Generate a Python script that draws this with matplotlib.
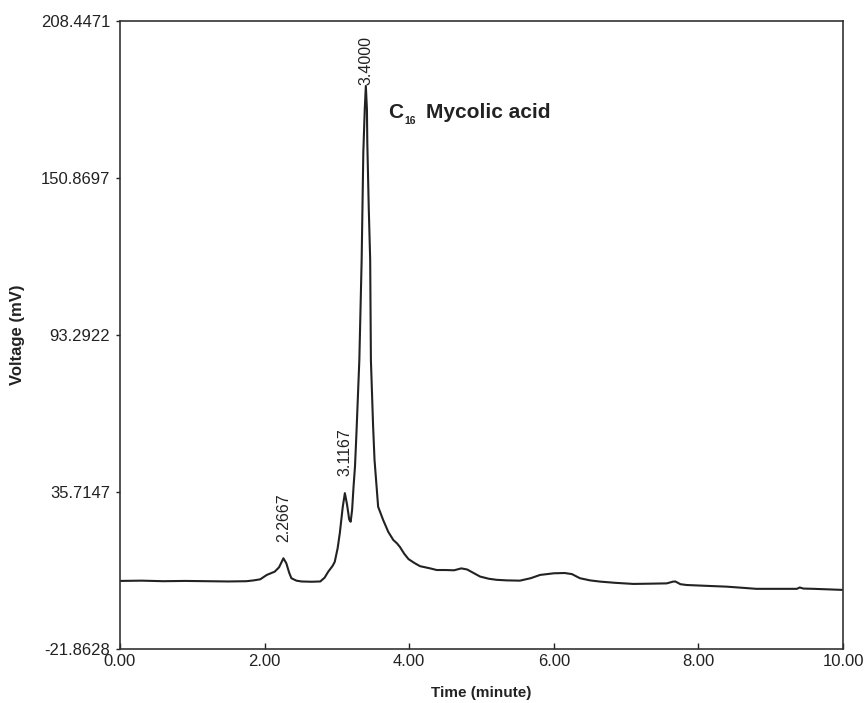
import matplotlib
matplotlib.use("Agg")
import matplotlib.pyplot as plt

plt.rcParams['font.family'] = ['Liberation Sans', 'DejaVu Sans']

# chromatogram trace (time in minutes, voltage in mV)
time_min = [0.00, 0.30, 0.60, 0.90, 1.20, 1.50, 1.75, 1.85, 1.94, 2.03, 2.14,
            2.20, 2.26, 2.30, 2.34, 2.37, 2.44, 2.51, 2.65, 2.77, 2.83, 2.88,
            2.94, 2.97, 3.01, 3.04, 3.08, 3.11, 3.14, 3.17, 3.19, 3.21, 3.23,
            3.25, 3.27, 3.31, 3.342, 3.365, 3.385, 3.40, 3.415, 3.42, 3.44,
            3.46, 3.47, 3.50, 3.52, 3.57, 3.64, 3.71, 3.78, 3.83, 3.87, 3.93,
            3.99, 4.07, 4.15, 4.29, 4.38, 4.50, 4.62, 4.72, 4.80, 4.98, 5.10,
            5.21, 5.35, 5.53, 5.68, 5.81, 6.00, 6.15, 6.25, 6.36, 6.50, 6.64,
            6.85, 7.10, 7.35, 7.56, 7.65, 7.68, 7.75, 7.84, 8.02, 8.20, 8.39,
            8.60, 8.80, 9.00, 9.20, 9.36, 9.40, 9.45, 9.59, 9.80, 10.00]
voltage_mv = [3.0, 3.1, 2.9, 3.0, 2.9, 2.8, 2.9, 3.2, 3.6, 5.2, 6.4,
              8.0, 11.3, 9.5, 6.0, 4.0, 3.1, 2.8, 2.7, 2.8, 4.2, 6.4,
              8.5, 10.0, 15.0, 20.5, 30.0, 35.2, 31.0, 25.5, 24.7, 29.0, 37.6,
              45.0, 57.1, 84.0, 120.7, 160.0, 176.0, 184.5, 176.0, 164.0, 140.0,
              120.7, 84.0, 60.0, 47.4, 30.2, 25.3, 21.0, 18.0, 16.8, 15.5, 13.0,
              11.0, 9.6, 8.4, 7.6, 7.0, 7.0, 6.9, 7.6, 7.2, 4.6, 3.8,
              3.4, 3.2, 3.1, 4.0, 5.2, 5.8, 5.9, 5.5, 4.0, 3.2, 2.75,
              2.3, 1.9, 2.0, 2.1, 2.75, 2.8, 1.8, 1.5, 1.3, 1.1, 0.9,
              0.5, 0.1, 0.1, 0.1, 0.1, 0.6, 0.2, 0.1, -0.1, -0.3]

peak_times = [2.2667, 3.1167, 3.4000]
peak_heights = [11.3, 35.2, 184.5]
peak_labels = ['2.2667', '3.1167', '3.4000']
peak_offsets = [12, 12, 1]

y_ticks = [-21.8628, 35.7147, 93.2922, 150.8697, 208.4471]
x_ticks = [0, 2, 4, 6, 8, 10]

fig = plt.figure(figsize=(8.65, 7.03), dpi=100)
ax = fig.add_axes([0.1387, 0.0772, 0.836, 0.8934])

ax.plot(time_min, voltage_mv, color='#222222', lw=1.5)

for t, h, lab, off in zip(peak_times, peak_heights, peak_labels, peak_offsets):
    ax.annotate(lab, xy=(t, h), xytext=(0, off), textcoords='offset points',
                rotation=90, ha='center', va='bottom', fontsize=11.5, color='#222222')

# compound name: "C" + small subscript "16" + name
ax.text(3.71, 174.6, 'C', fontsize=15, fontweight='bold', color='#222222', va='center')
ax.text(3.93, 171.5, '16', fontsize=7.5, fontweight='bold', color='#222222', va='center')
ax.text(4.23, 174.6, 'Mycolic acid', fontsize=15, fontweight='bold', color='#222222', va='center')

ax.set_xlim(0, 10)
ax.set_ylim(y_ticks[0], y_ticks[-1])
ax.set_xticks(x_ticks)
ax.set_xticklabels(['%.2f' % v for v in x_ticks])
ax.set_yticks(y_ticks)
ax.set_yticklabels(['%.4f' % v for v in y_ticks])
ax.tick_params(axis='x', direction='in', length=4, width=1, labelsize=12, pad=4, colors='#222222')
ax.tick_params(axis='y', direction='out', length=3, width=1, labelsize=12, pad=4, colors='#222222')
for s in ax.spines.values():
    s.set_color('#333333')
    s.set_linewidth(1.2)

ax.set_xlabel('Time (minute)', fontsize=11, fontweight='bold', color='#222222', labelpad=12)
ax.set_ylabel('Voltage (mV)', fontsize=12, fontweight='bold', color='#222222')
ax.yaxis.set_label_coords(-0.131, 0.5)

fig.savefig('out.png', dpi=100)
